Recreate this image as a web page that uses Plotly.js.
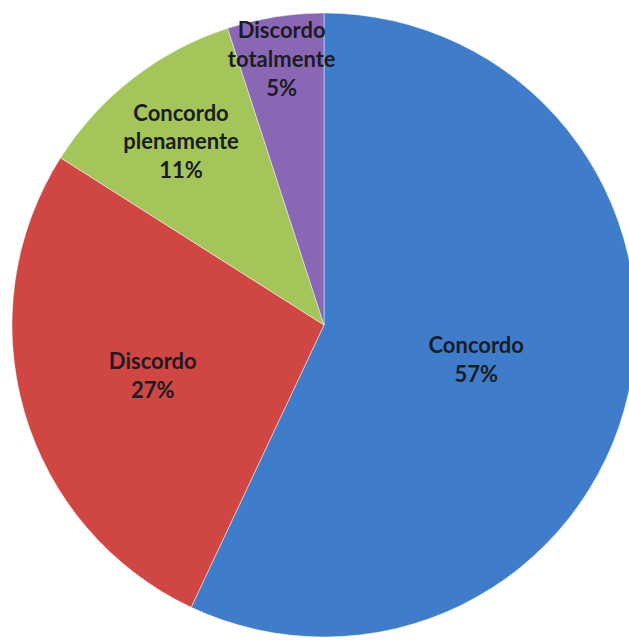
<!DOCTYPE html>
<html>
<head>
<meta charset="utf-8">
<script src="https://cdn.plot.ly/plotly-3.0.1.min.js"></script>
<style>
html,body{margin:0;padding:0;overflow:hidden;background:#fff;}
#chart{width:650px;height:640px;}
</style>
</head>
<body>
<div id="chart"></div>
<script>
const categories = ["Concordo", "Discordo", "Concordo<br>plenamente", "Discordo<br>totalmente"];
const values = [57, 27, 11, 5];
const sliceColors = ["#3F7DCA", "#CF4643", "#A4C55A", "#8A67B5"];

const trace = {
  type: "pie",
  labels: categories,
  values: values,
  sort: false,
  direction: "clockwise",
  rotation: 0,
  texttemplate: "<b>%{label}<br>%{percent:.0%}</b>",
  textposition: "inside",
  insidetextorientation: "horizontal",
  hoverinfo: "label+percent",
  textfont: {family: "Lato, 'Open Sans', sans-serif", size: 22, color: "#1c1c24"},
  marker: {colors: sliceColors, line: {color: "rgba(255,255,255,0.45)", width: 1}},
  domain: {x: [0.01846, 0.97846], y: [0.0047, 0.9797]},
  showlegend: false
};

const layout = {
  width: 650,
  height: 640,
  margin: {l: 0, r: 0, t: 0, b: 0},
  paper_bgcolor: "#ffffff",
  plot_bgcolor: "#ffffff",
  uniformtext: {minsize: 22, mode: "show"},
  showlegend: false
};

Plotly.newPlot("chart", [trace], layout, {displayModeBar: false, staticPlot: true});
</script>
</body>
</html>
